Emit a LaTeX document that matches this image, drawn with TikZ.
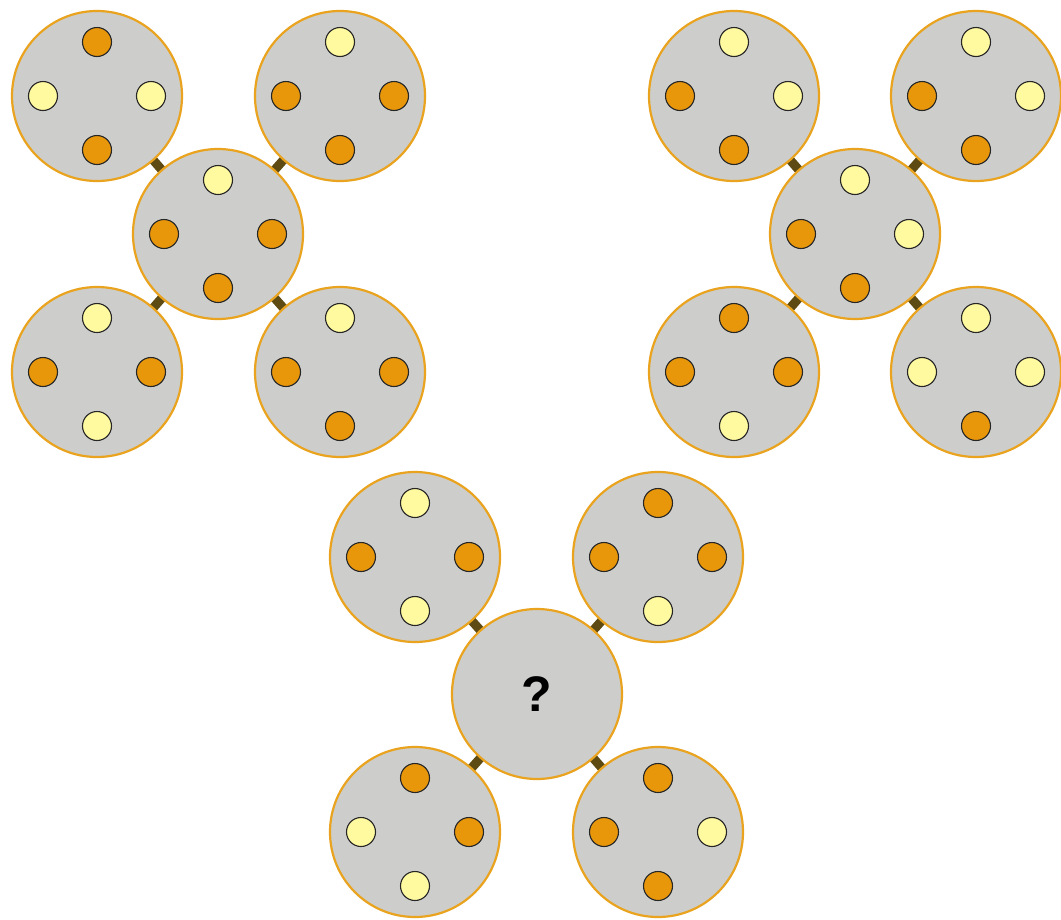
\documentclass[tikz,border=0pt]{standalone}
\usepackage{fontspec}
\setmainfont{Liberation Sans}
\usetikzlibrary{backgrounds}
\definecolor{disc}{HTML}{CDCECB}
\definecolor{rim}{HTML}{E9A31F}
\definecolor{dk}{HTML}{E8960A}
\definecolor{lt}{HTML}{FFF9A0}
\definecolor{linkc}{HTML}{5E4B14}
\tikzset{
  bigdisc/.style={circle, draw=rim, line width=2.2pt, fill=disc, minimum size=170pt, inner sep=0pt},
  dotbase/.style={circle, draw=black!85, line width=1.1pt, minimum size=29pt, inner sep=0pt},
  dotO/.style={dotbase, fill=dk},
  dotY/.style={dotbase, fill=lt},
  linkline/.style={draw=linkc, line width=9pt}
}
\newcommand\mydisc[7]{%
  \node[bigdisc] (#1) at (#2,#3) {};
  \node[dot#4] (#1-t) at (#2,#3-54) {};
  \node[dot#5] (#1-l) at (#2-54,#3) {};
  \node[dot#6] (#1-r) at (#2+54,#3) {};
  \node[dot#7] (#1-b) at (#2,#3+54) {};
}
\begin{document}
\begin{tikzpicture}[x=1pt,y=-1pt]
\useasboundingbox (0,0) rectangle (1061,919);
% group 1
\mydisc{atl}{97}{96}{O}{Y}{Y}{O}
\mydisc{atr}{340}{96}{Y}{O}{O}{O}
\mydisc{ac}{218}{234}{Y}{O}{O}{O}
\mydisc{abl}{97}{372}{Y}{O}{O}{Y}
\mydisc{abr}{340}{372}{Y}{O}{O}{O}
% group 2
\mydisc{btl}{734}{96}{Y}{O}{Y}{O}
\mydisc{btr}{976}{96}{Y}{O}{Y}{O}
\mydisc{bc}{855}{234}{Y}{O}{Y}{O}
\mydisc{bbl}{734}{372}{O}{O}{O}{Y}
\mydisc{bbr}{976}{372}{Y}{Y}{Y}{O}
% group 3
\mydisc{ctl}{415}{557}{Y}{O}{O}{Y}
\mydisc{ctr}{658}{557}{O}{O}{O}{Y}
\node[bigdisc, font=\bfseries\fontsize{50}{50}\selectfont] (cc) at (537,694) {?};
\mydisc{cbl}{415}{832}{O}{Y}{O}{Y}
\mydisc{cbr}{658}{832}{O}{O}{Y}{O}
\begin{scope}[on background layer]
\fill[white] (0,0) rectangle (1061,919);
\foreach \g in {a,b,c}{
  \foreach \p in {tl,tr,bl,br}{
    \draw[linkline] (\g c.center) -- (\g\p.center);
  }
}
\end{scope}
\end{tikzpicture}
\end{document}
